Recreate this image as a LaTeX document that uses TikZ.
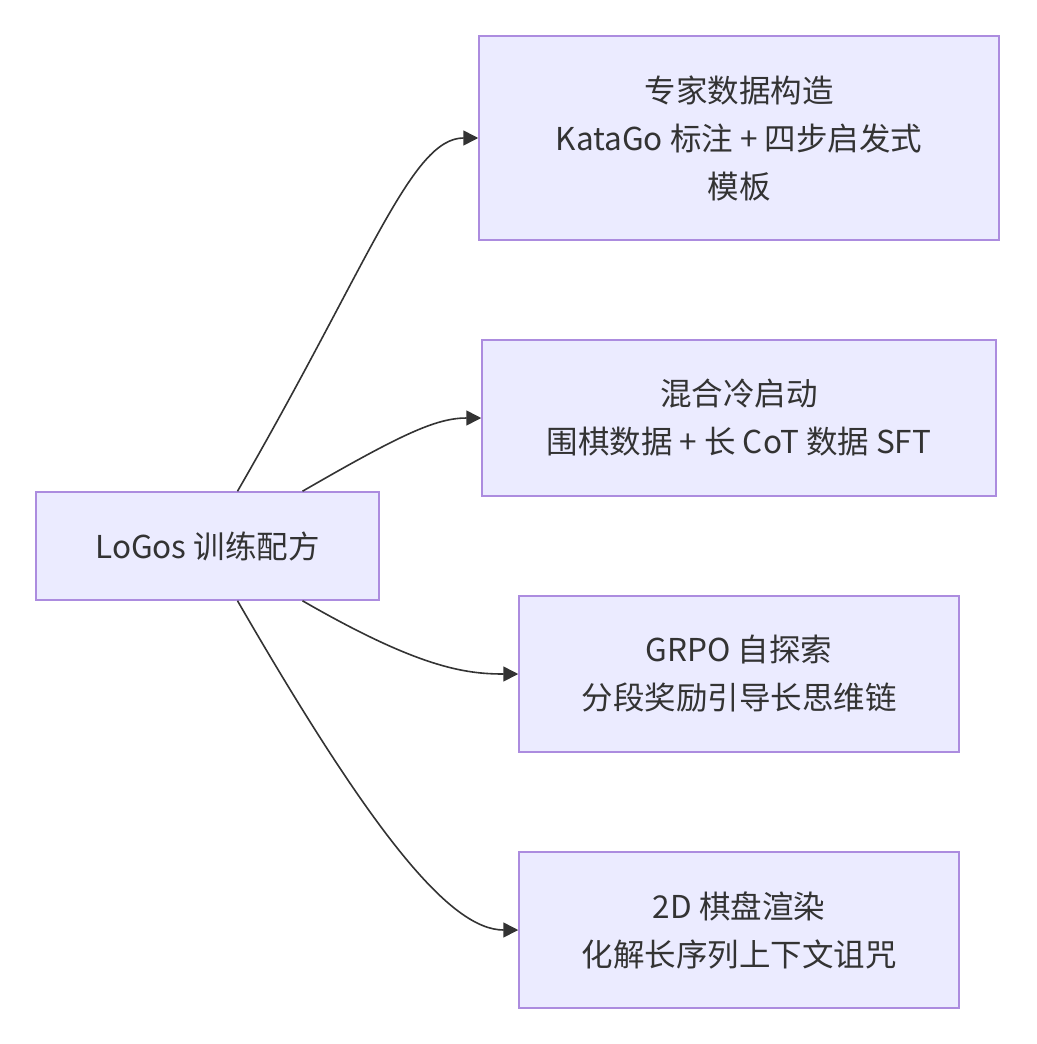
\documentclass[tikz,border=0pt]{standalone}
\usepackage{fontspec}
\setmainfont{Noto Sans CJK SC}
\usetikzlibrary{arrows.meta}

\begin{document}
\begin{tikzpicture}[x=1pt,y=-1pt,>={Triangle[length=15pt,width=15pt]},
  line width=1.5pt,
  step box/.style={rectangle,draw=violet!55!blue!45,fill=blue!8,
  line width=1.5pt,align=center,text=black!80,
  font=\fontsize{31.5}{48}\selectfont},
  link/.style={->,draw=black!80,line width=1.6pt}]

  \useasboundingbox (0,0) rectangle (1036,1044);

  \node[step box, minimum width=343pt, minimum height=108pt] (logos) at (207.5,546) {LoGos 训练配方};
  \node[step box, minimum width=520pt, minimum height=204pt] (expert) at (739,138) {专家数据构造\\KataGo 标注 + 四步启发式\\模板};
  \node[step box, minimum width=514pt, minimum height=156pt] (cold) at (739,418) {混合冷启动\\围棋数据 + 长 CoT 数据 SFT};
  \node[step box, minimum width=440pt, minimum height=156pt] (grpo) at (739,674) {GRPO 自探索\\分段奖励引导长思维链};
  \node[step box, minimum width=440pt, minimum height=156pt] (board) at (739,930) {2D 棋盘渲染\\化解长序列上下文诅咒};

  % arrows leave the top and bottom of the recipe box
  \draw[link] ([xshift=30pt]logos.north) to[out=60,in=180,out looseness=1.6,in looseness=0.4] (expert.west);
  \draw[link] ([xshift=95pt]logos.north) to[out=30,in=180,out looseness=1.5,in looseness=0.6] (cold.west);
  \draw[link] ([xshift=95pt]logos.south) to[out=-30,in=180,out looseness=1.5,in looseness=0.6] (grpo.west);
  \draw[link] ([xshift=30pt]logos.south) to[out=-60,in=180,out looseness=1.6,in looseness=0.4] (board.west);
\end{tikzpicture}
\end{document}
